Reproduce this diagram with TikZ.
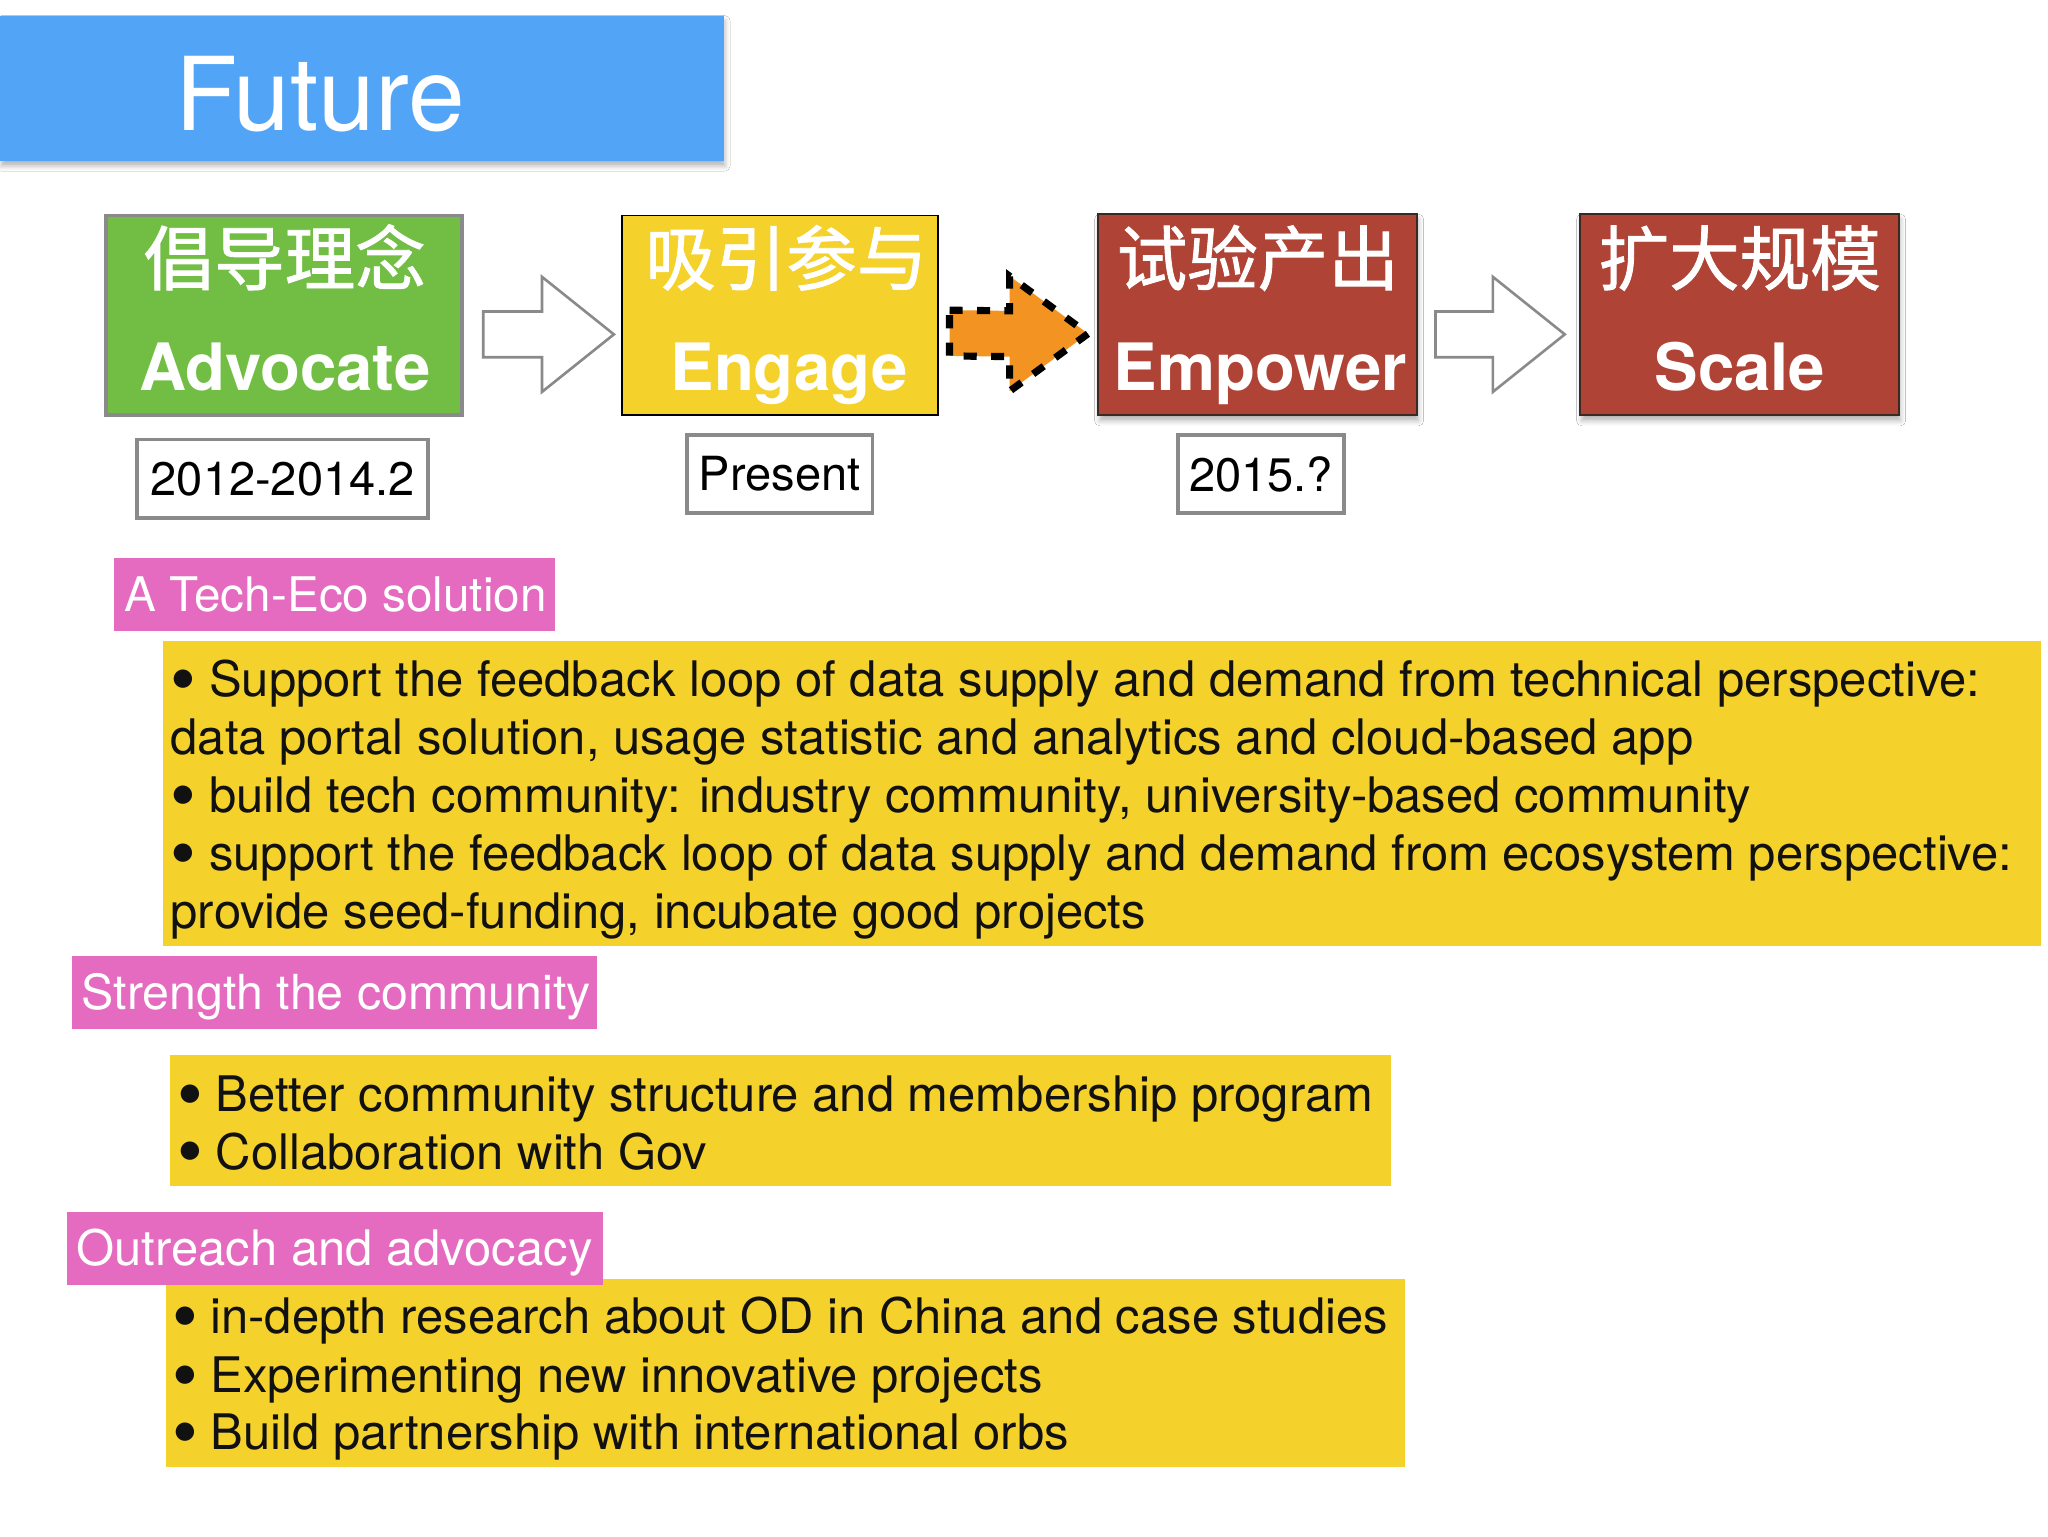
\documentclass[tikz,border=0pt]{standalone}
\usepackage{fontspec}
\usepackage{graphicx}
\setmainfont{TeX Gyre Heros}
\newfontfamily\cjk[FakeBold=1.2]{Noto Sans CJK SC}
\usetikzlibrary{calc,shadows.blur}
\definecolor{titleblue}{HTML}{52A5F6}
\definecolor{advgreen}{HTML}{72BE45}
\definecolor{engyellow}{HTML}{F5D12B}
\definecolor{empred}{HTML}{AF4336}
\definecolor{redborder}{HTML}{3A2A24}
\definecolor{arrorange}{HTML}{F29322}
\definecolor{labpink}{HTML}{E46BBF}
\definecolor{bordergray}{HTML}{8A8A8A}
\definecolor{bodytext}{HTML}{111111}
\newcommand\blockarrow[4]{%
  \path[#1] ($(#2)+(0,-17.5)$) -- ($(#3)+(-#4,-17.5)$) -- ($(#3)+(-#4,-44)$) -- (#3)
    -- ($(#3)+(-#4,44)$) -- ($(#3)+(-#4,17.5)$) -- ($(#2)+(0,17.5)$) -- cycle;}
\newcommand\bul{\makebox[23.5pt][l]{\hspace{-6pt}\raisebox{-0.16em}{\scalebox{1.5}{•}}\hfill}}
\tikzset{
  plainbox/.style={rectangle, inner sep=0pt, outer sep=0pt},
  stagebox/.style={plainbox, minimum width=#1, minimum height=154pt},
  cjklab/.style={anchor=base, text=white, font=\cjk\fontsize{54}{54}\selectfont},
  enlab/.style={anchor=base, text=white, font=\fontsize{50}{50}\selectfont\bfseries},
  datebox/.style={plainbox, draw=bordergray, line width=3pt, fill=white, text=black,
    font=\fontsize{36}{36}\selectfont, minimum height=60pt},
  pinklab/.style={plainbox, fill=labpink, minimum height=56pt},
  pinktext/.style={anchor=base west, text=white, font=\fontsize{#1}{#1}\selectfont},
  note/.style={plainbox, fill=engyellow},
  bodyline/.style={anchor=base west, text=bodytext, inner sep=0pt, font=\fontsize{37.5}{44.5}\selectfont},
  grayarrow/.style={fill=white, draw=bordergray, line width=2pt, line join=miter},
  dasharrow/.style={fill=arrorange, draw=black, line width=5.5pt, dash pattern=on 10pt off 11pt},
  softshadow/.style={blur shadow={shadow xshift=1pt, shadow yshift=-4pt, shadow blur radius=4pt, shadow opacity=30}}
}
\begin{document}
\begin{tikzpicture}[x=1pt,y=-1pt]
\useasboundingbox (0,0) rectangle (1568,1176);
\fill[white] (0,0) rectangle (1568,1176);

% title bar
\node[plainbox, fill=titleblue, minimum width=554pt, minimum height=111pt, softshadow] (title) at (277,67.5) {};
\node[anchor=base, text=white, font=\fontsize{78}{78}\selectfont] (titletext) at (245,100) {Future};

% stage boxes
\node[stagebox=273pt, minimum height=153pt, fill=advgreen, draw=bordergray, line width=3pt] (adv) at (217.5,241.5) {};
\node[stagebox=242pt, minimum height=153pt, fill=engyellow, draw=black, line width=1.5pt] (eng) at (597,241.5) {};
\node[stagebox=244pt, fill=empred, draw=redborder, line width=1.5pt, softshadow] (emp) at (963,241) {};
\node[stagebox=244pt, fill=empred, draw=redborder, line width=1.5pt, softshadow] (sca) at (1332,241) {};

\node[cjklab] (advcn) at (218,218) {倡导理念};
\node[enlab] (adven) at (218,299) {Advocate};
\node[cjklab] (engcn) at (602,218) {吸引参与};
\node[enlab] (engen) at (604,299) {Engage};
\node[cjklab] (empcn) at (963,218) {试验产出};
\node[enlab] (empen) at (965,299) {Empower};
\node[cjklab] (scacn) at (1332,218) {扩大规模};
\node[enlab] (scaen) at (1332,299) {Scale};

% arrows between stages
\coordinate (a1s) at ($(adv.east)+(16,14.5)$);
\coordinate (a1t) at ($(eng.west)+(-6,14.5)$);
\coordinate (a2s) at ($(eng.east)+(9,13.5)$);
\coordinate (a2t) at ($(emp.west)+(-8,14.5)$);
\coordinate (a3s) at ($(emp.east)+(14,15)$);
\coordinate (a3t) at ($(sca.west)+(-12,15)$);
\blockarrow{grayarrow}{a1s}{a1t}{55}
\blockarrow{dasharrow}{a2s}{a2t}{60}
\blockarrow{grayarrow}{a3s}{a3t}{55}

% date boxes
\node[datebox, minimum width=223pt] (d1) at (216.5,366.5) {2012-2014.2};
\node[datebox, minimum width=142pt] (d2) at (597,363) {Present};
\node[datebox, minimum width=127pt] (d3) at (965.5,363) {2015.?};

% section 1
\node[note, minimum width=1438pt, minimum height=233pt] (n1) at (844,607.5) {};
\node[pinklab, minimum width=338pt] (p1) at (256,455) {};
\node[pinktext=36.5] (p1t) at (92,468) {A Tech-Eco solution};
\node[bodyline] (l11) at (136.5,533) {\bul Support the feedback loop of data supply and demand from technical perspective:};
\node[bodyline] (l12) at (130.5,577.5) {data portal solution, usage statistic and analytics and cloud-based app};
\node[bodyline] (l13) at (136.5,622) {\bul build tech community: industry community, university-based community};
\node[bodyline] (l14) at (136.5,666.5) {\bul support the feedback loop of data supply and demand from ecosystem perspective:};
\node[bodyline] (l15) at (130.5,711) {provide seed-funding, incubate good projects};

% section 2
\node[pinklab, minimum width=402pt] (p2) at (256,760) {};
\node[pinktext=37] (p2t) at (59,773) {Strength the community};
\node[note, minimum width=935pt, minimum height=100pt] (n2) at (597.5,858) {};
\node[bodyline] (l21) at (141.5,851) {\bul Better community structure and membership program};
\node[bodyline] (l22) at (141.5,895) {\bul Collaboration with Gov};

% section 3
\node[note, minimum width=949pt, minimum height=144pt] (n3) at (601.5,1051) {};
\node[pinklab, minimum width=411pt] (p3) at (256.5,956) {};
\node[pinktext=37.5] (p3t) at (55,969) {Outreach and advocacy};
\node[bodyline] (l31) at (137.5,1021) {\bul in-depth research about OD in China and case studies};
\node[bodyline] (l32) at (137.5,1066) {\bul Experimenting new innovative projects};
\node[bodyline] (l33) at (137.5,1110) {\bul Build partnership with international orbs};
\end{tikzpicture}
\end{document}
